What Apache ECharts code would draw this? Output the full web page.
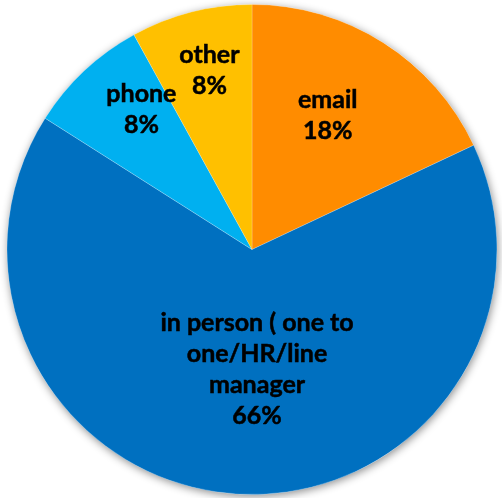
<!DOCTYPE html>
<html>
<head>
<meta charset="utf-8">
<script src="https://cdn.jsdelivr.net/npm/echarts@6/dist/echarts.min.js"></script>
<style>
  html, body { margin: 0; padding: 0; background: #ffffff; }
  #chart { width: 502px; height: 498px; }
</style>
</head>
<body>
<div id="chart"></div>
<script>
// Channels used, share of responses (%)
const categories = ['email', 'in person ( one to\none/HR/line\nmanager', 'phone', 'other'];
const values = [18, 66, 8, 8];
const colors = ['#FF8C00', '#0070C0', '#00B0F0', '#FFC000'];

// Label placement: fraction of the radius and small angular nudge (degrees)
const labelRadius = [0.63, 0.49, 0.73, 0.75];
const labelNudge = [-3, -6, 5, 1];

const CX = 252, CY = 249.5, R = 245;
const total = values.reduce((a, b) => a + b, 0);

function labelPos(i) {
  let start = 0;
  for (let k = 0; k < i; k++) start += values[k];
  const mid = (start + values[i] / 2) / total * 360 + labelNudge[i];
  const a = mid * Math.PI / 180;
  const r = R * labelRadius[i];
  return { x: CX + r * Math.sin(a), y: CY - r * Math.cos(a) };
}

const chart = echarts.init(document.getElementById('chart'), null, { renderer: 'canvas' });

chart.setOption({
  animation: false,
  backgroundColor: '#ffffff',
  series: [
    {
      // soft drop shadow behind the whole disc
      type: 'pie',
      silent: true,
      center: [CX, CY],
      radius: R,
      label: { show: false },
      labelLine: { show: false },
      itemStyle: {
        color: '#ffffff',
        shadowBlur: 8,
        shadowColor: 'rgba(0,0,0,0.45)',
        shadowOffsetX: 1,
        shadowOffsetY: 2
      },
      data: [{ value: total, name: '' }]
    },
    {
      type: 'pie',
      center: [CX, CY],
      radius: R,
      startAngle: 90,
      clockwise: true,
      avoidLabelOverlap: false,
      itemStyle: { borderColor: 'rgba(255,255,255,0.35)', borderWidth: 0.6 },
      label: {
        show: true,
        position: 'inside',
        formatter: p => p.name + '\n' + p.value + '%',
        color: '#000000',
        fontFamily: 'Lato',
        fontWeight: 'bold',
        fontSize: 25,
        lineHeight: 31,
        textBorderColor: '#000000',
        textBorderWidth: 0.5,
        align: 'center',
        verticalAlign: 'middle'
      },
      labelLine: { show: false },
      labelLayout: params => {
        const p = labelPos(params.dataIndex);
        return { x: p.x, y: p.y, align: 'center', verticalAlign: 'middle' };
      },
      data: categories.map((c, i) => ({
        name: c,
        value: values[i],
        itemStyle: { color: colors[i] }
      }))
    }
  ]
});
</script>
</body>
</html>
